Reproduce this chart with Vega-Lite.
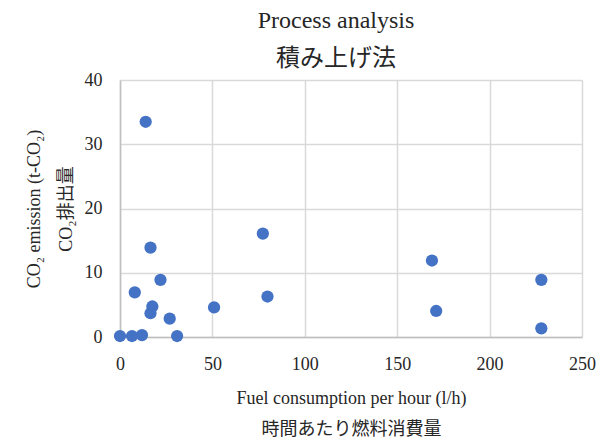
{
  "$schema": "https://vega.github.io/schema/vega-lite/v6.json",
  "autosize": "none",
  "width": 462,
  "height": 257,
  "padding": {"left": 120, "top": 80, "right": 29, "bottom": 109},
  "background": "white",
  "config": {
    "font": "Liberation Serif, Noto Sans CJK JP",
    "view": {"stroke": null}
  },
  "title": {
    "text": ["Process analysis", "積み上げ法"],
    "fontSize": 24,
    "fontWeight": "normal",
    "lineHeight": 38,
    "color": "#262626",
    "anchor": "middle",
    "dx": -15,
    "dy": 8,
    "offset": 8
  },
  "data": {
    "values": [
      {"fuel": 13.9, "co2": 33.5},
      {"fuel": 16.5, "co2": 13.9},
      {"fuel": 21.9, "co2": 8.9},
      {"fuel": 8.0, "co2": 6.95},
      {"fuel": 17.5, "co2": 4.75},
      {"fuel": 16.5, "co2": 3.7},
      {"fuel": 26.9, "co2": 2.85},
      {"fuel": 0.0, "co2": 0.15},
      {"fuel": 6.5, "co2": 0.15},
      {"fuel": 11.9, "co2": 0.3},
      {"fuel": 30.9, "co2": 0.15},
      {"fuel": 77.3, "co2": 16.1},
      {"fuel": 79.8, "co2": 6.3},
      {"fuel": 50.9, "co2": 4.6},
      {"fuel": 168.8, "co2": 11.9},
      {"fuel": 171.1, "co2": 4.05},
      {"fuel": 228.0, "co2": 8.9},
      {"fuel": 228.0, "co2": 1.35}
    ]
  },
  "mark": {"type": "point", "filled": true, "opacity": 1, "size": 150, "color": "#4472C4"},
  "encoding": {
    "x": {
      "field": "fuel",
      "type": "quantitative",
      "scale": {"domain": [0, 250], "nice": false},
      "axis": {
        "values": [0, 50, 100, 150, 200, 250],
        "title": ["Fuel consumption per hour (l/h)", "時間あたり燃料消費量"],
        "titleFontSize": 18,
        "titleFontWeight": "normal",
        "titleColor": "#262626",
        "titleLineHeight": 31,
        "titleBaseline": "alphabetic",
        "titleY": 66,
        "labelFontSize": 18,
        "labelColor": "#262626",
        "labelPadding": 18,
        "labelFlush": false,
        "ticks": false,
        "domainColor": "#BFBFBF",
        "domainWidth": 1.5,
        "gridColor": "#D9D9D9",
        "gridWidth": 1.5
      }
    },
    "y": {
      "field": "co2",
      "type": "quantitative",
      "scale": {"domain": [0, 40], "nice": false},
      "axis": {
        "values": [0, 10, 20, 30, 40],
        "title": ["CO₂ emission (t-CO₂)", "CO₂排出量"],
        "titleFontSize": 18,
        "titleFontWeight": "normal",
        "titleColor": "#262626",
        "titleLineHeight": 32,
        "titleBaseline": "middle",
        "titleX": -86,
        "labelFontSize": 18,
        "labelColor": "#262626",
        "labelPadding": 18,
        "labelFlush": false,
        "ticks": false,
        "domainColor": "#BFBFBF",
        "domainWidth": 1.5,
        "gridColor": "#D9D9D9",
        "gridWidth": 1.5
      }
    }
  }
}
